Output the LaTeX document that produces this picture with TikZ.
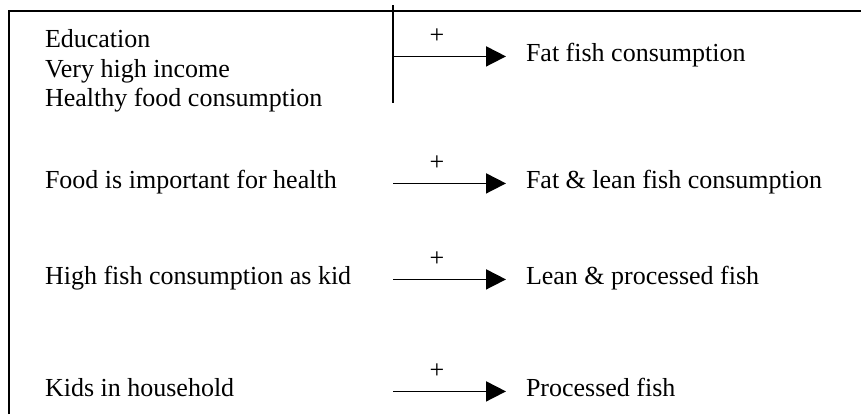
\documentclass[tikz,border=0pt]{standalone}
\usepackage{fontspec}
\setmainfont{Liberation Serif}
\usepackage{tikz}
\usetikzlibrary{arrows.meta,positioning}

\begin{document}
\begin{tikzpicture}[
        x=0.5pt, y=-0.5pt,
        every node/.style={font=\fontsize{13}{15}\selectfont, inner sep=0, outer sep=0},
        cause/.style={anchor=base west},
        effect/.style={anchor=base west, inner xsep=10pt},
        sign/.style={anchor=south, inner sep=6.5pt},
        frame/.style={line width=0.8pt},
        arr/.style={line width=0.9pt, -{Triangle[length=10pt,width=10pt]}},
    ]
        \useasboundingbox (0,0) rectangle (861,414);
        \draw [frame] (9,414) -- (9,11) -- (861,11);

        % left side
        \node [cause] (edu) at (45,47) {Education};
        \node [cause] (income) at (45,77) {Very high income};
        \node [cause] (healthy) at (45,106) {Healthy food consumption};
        \node [cause] (food) at (45,188) {Food is important for health};
        \node [cause] (kid) at (45,284) {High fish consumption as kid};
        \node [cause] (household) at (45,396) {Kids in household};

        \coordinate (brtop) at (393,5);
        \coordinate (brbot) at (393,103);
        \draw [frame] (brtop) -- (brbot);

        % right side
        \node [effect] (fat) at (506,61) {Fat fish consumption};
        \node [effect] (fatlean) at (506,188) {Fat \& lean fish consumption};
        \node [effect] (leanproc) at (506,284) {Lean \& processed fish};
        \node [effect] (proc) at (506,396) {Processed fish};

        \draw [arr] (fat.mid west -| brtop) -- node [pos=.39, sign] {+} (fat.mid west);
        \draw [arr] (fatlean.mid west -| brtop) -- node [pos=.39, sign] {+} (fatlean.mid west);
        \draw [arr] (leanproc.mid west -| brtop) -- node [pos=.39, sign] {+} (leanproc.mid west);
        \draw [arr] (proc.mid west -| brtop) -- node [pos=.39, sign] {+} (proc.mid west);
    \end{tikzpicture}
\end{document}
